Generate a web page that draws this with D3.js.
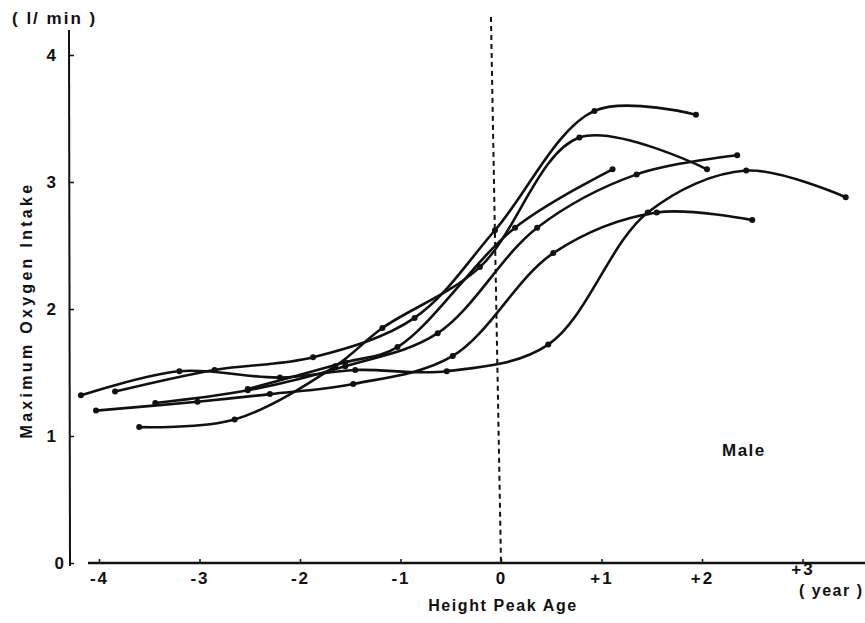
<!DOCTYPE html>
<html>
<head>
<meta charset="utf-8">
<script src="https://cdn.jsdelivr.net/npm/d3@7"></script>
<style>
  body { margin: 0; background: #fff; }
  svg text { font-family: "Liberation Sans", Arial, sans-serif; font-weight: bold; fill: #111; }
</style>
</head>
<body>
<svg id="chart" width="865" height="623"></svg>
<script>
// years relative to peak height velocity age, VO2max in l/min
const xTicks = [-4, -3, -2, -1, 0, 1, 2, 3]
const yTicks = [0, 1, 2, 3, 4]

const boyA = { x: [-3.84, -2.85, -1.87, -0.86, -0.06, 0.93, 1.94], y: [1.35, 1.52, 1.62, 1.93, 2.62, 3.56, 3.53] }
const boyB = { x: [-3.6, -2.65, -1.65, -1.18, -0.21, 0.78, 2.05], y: [1.07, 1.13, 1.55, 1.85, 2.33, 3.35, 3.1] }
const boyC = { x: [-2.52, -1.55, -1.03, 0.14, 1.11], y: [1.37, 1.58, 1.70, 2.64, 3.1] }
const boyD = { x: [-3.44, -2.52, -1.55, -0.63, 0.36, 1.35, 2.35], y: [1.26, 1.36, 1.55, 1.81, 2.64, 3.06, 3.21] }
const boyE = { x: [-4.18, -3.2, -2.2, -1.45, -0.54, 0.47, 1.46, 2.44, 3.43], y: [1.32, 1.51, 1.46, 1.52, 1.51, 1.72, 2.76, 3.09, 2.88] }
const boyF = { x: [-4.03, -3.02, -2.3, -1.47, -0.48, 0.52, 1.55, 2.5], y: [1.2, 1.27, 1.33, 1.41, 1.63, 2.44, 2.76, 2.7] }

const series = [boyA, boyB, boyC, boyD, boyE, boyF]

const svg = d3.select("#chart")

const xScale = d3.scaleLinear().domain([-4, 3]).range([99, 802.5])
const yScale = d3.scaleLinear().domain([0, 4]).range([563, 55])

// y axis (ticks point inward)
const yAxis = svg.append("g")
  .attr("transform", "translate(70,0)")
  .call(d3.axisLeft(yScale).tickValues(yTicks).tickSize(-4).tickPadding(14).tickFormat(d3.format("d")))
yAxis.select(".domain").remove()
yAxis.selectAll("line").attr("stroke", "#111").attr("stroke-width", 1.5)
yAxis.selectAll("text").style("font-size", "17px").attr("fill", "#111")
yAxis.selectAll("text").filter(d => d === 0).attr("x", -6)
svg.append("line")
  .attr("x1", 69).attr("x2", 70)
  .attr("y1", 30).attr("y2", 566)
  .attr("stroke", "#111").attr("stroke-width", 2)

// x axis
const xAxis = svg.append("g")
  .attr("transform", "translate(0,563)")
  .call(d3.axisBottom(xScale).tickValues(xTicks).tickSize(-4).tickPadding(9)
    .tickFormat(d => d < 0 ? "-" + Math.abs(d) : d > 0 ? "+" + d : "0"))
xAxis.select(".domain").remove()
xAxis.selectAll("line").attr("stroke", "#111").attr("stroke-width", 1.5)
xAxis.selectAll("text").style("font-size", "17px").style("letter-spacing", "2px").attr("fill", "#111")
xAxis.selectAll("text").filter(d => d === 3).attr("dy", "0.2em")
svg.append("line")
  .attr("x1", 88).attr("x2", 865)
  .attr("y1", 563).attr("y2", 563)
  .attr("stroke", "#111").attr("stroke-width", 2.5)

// dashed line at peak height age
svg.append("line")
  .attr("x1", xScale(-0.1)).attr("y1", yScale(4.3))
  .attr("x2", xScale(0)).attr("y2", yScale(0))
  .attr("stroke", "#111").attr("stroke-width", 2)
  .attr("stroke-dasharray", "5,4")

const line = d3.line()
  .x(d => xScale(d[0]))
  .y(d => yScale(d[1]))
  .curve(d3.curveCatmullRom.alpha(0.5))

svg.append("g")
  .attr("fill", "none")
  .attr("stroke", "#111")
  .attr("stroke-width", 2.6)
  .attr("stroke-linejoin", "round")
  .attr("stroke-linecap", "round")
  .selectAll("path")
  .data(series)
  .join("path")
  .attr("d", s => line(s.x.map((x, i) => [x, s.y[i]])))

svg.append("g")
  .attr("fill", "#111")
  .selectAll("g")
  .data(series)
  .join("g")
  .selectAll("circle")
  .data(s => s.x.map((x, i) => [x, s.y[i]]))
  .join("circle")
  .attr("cx", d => xScale(d[0]))
  .attr("cy", d => yScale(d[1]))
  .attr("r", 3)

// labels
svg.append("text")
  .attr("x", 12).attr("y", 24)
  .style("font-size", "17px")
  .style("letter-spacing", "2px")
  .text("( l/ min )")

svg.append("text")
  .attr("transform", "translate(32,310) rotate(-90)")
  .attr("text-anchor", "middle")
  .style("font-size", "16px")
  .style("letter-spacing", "3.3px")
  .text("Maximum Oxygen Intake")

svg.append("text")
  .attr("x", 503).attr("y", 611)
  .attr("text-anchor", "middle")
  .style("font-size", "16px")
  .style("letter-spacing", "1.6px")
  .text("Height Peak Age")

svg.append("text")
  .attr("x", 799).attr("y", 596)
  .style("font-size", "16px")
  .style("letter-spacing", "1.5px")
  .text("( year )")

svg.append("text")
  .attr("x", 722).attr("y", 456)
  .style("font-size", "17px")
  .style("letter-spacing", "1.5px")
  .text("Male")
</script>
</body>
</html>
